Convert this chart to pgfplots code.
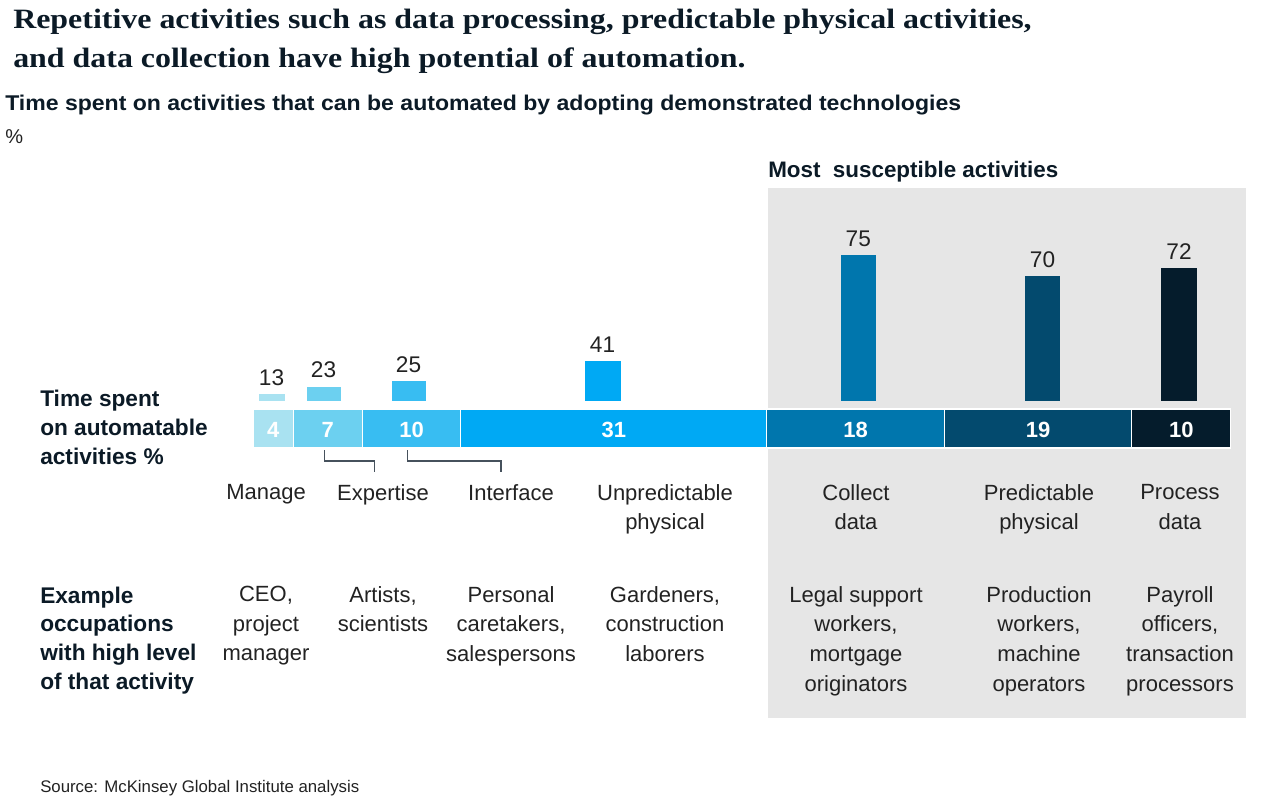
\documentclass[border=0pt]{standalone}
\usepackage{pgfplots}
\pgfplotsset{compat=1.18}
\usepackage{fontspec}
\setmainfont{Liberation Sans}
\newfontfamily\titlefont[FakeStretch=1.14]{Liberation Serif}

\definecolor{segA}{HTML}{A9E2F1}
\definecolor{segB}{HTML}{6CD0F0}
\definecolor{segC}{HTML}{38BDF2}
\definecolor{segD}{HTML}{00A9F4}
\definecolor{segE}{HTML}{0076AD}
\definecolor{segF}{HTML}{034A6E}
\definecolor{segG}{HTML}{051C2C}
\definecolor{boxgrey}{HTML}{E6E6E6}
\definecolor{ink}{HTML}{0B1A26}
\definecolor{body}{HTML}{222222}
\definecolor{linkgrey}{HTML}{46515C}

\begin{document}
\begin{tikzpicture}[x=0.75pt,y=0.75pt,
  bodytxt/.style={inner sep=0, text=body, align=center,
    font=\fontsize{16.5}{22.2}\selectfont},
  boldlab/.style={inner sep=0, text=ink, align=left,
    font=\bfseries\fontsize{17}{21.5}\selectfont},
  segnum/.style={text=white, font=\bfseries\fontsize{16.5}{18}\selectfont, anchor=center},
  barnum/.style={text=body, font=\fontsize{17}{18}\selectfont, anchor=south, inner sep=0}]
\useasboundingbox (0,0) rectangle (1265,-800);

% shaded block of the most susceptible activities
\fill[boxgrey] (768,-188) rectangle (1246,-718);

% titles
\node[anchor=base west, inner sep=0, text=ink,
  font=\titlefont\bfseries\fontsize{21}{28}\selectfont] at (13,-28)
  {Repetitive activities such as data processing, predictable physical activities,};
\node[anchor=base west, inner sep=0, text=ink,
  font=\titlefont\bfseries\fontsize{21}{28}\selectfont] at (13,-67)
  {and data collection have high potential of automation.};
\node[anchor=base west, inner sep=0, text=ink,
  font=\bfseries\fontsize{16}{18}\selectfont] at (5,-110)
  {\scalebox{1.08}[1]{Time spent on activities that can be automated by adopting demonstrated technologies}};
\node[anchor=base west, inner sep=0, text=body,
  font=\fontsize{15}{18}\selectfont] at (5,-143) {\%};
\node[anchor=base west, inner sep=0, text=ink,
  font=\bfseries\fontsize{16.8}{18}\selectfont] at (768,-177.5)
  {Most\ \ susceptible activities};

% row headers
\node[boldlab, anchor=north west] at (40,-390)
  {Time spent\\on automatable\\activities \%};
\node[boldlab, anchor=north west] at (40,-586.5)
  {Example\\occupations\\with high level\\of that activity};

% x: time spent (%), y: pixels above the strip's lower edge
\begin{axis}[at={(257,-448)}, anchor=south west, scale only axis,
  width=732.75pt, height=150pt, xmin=0, xmax=99, ymin=0, ymax=200,
  hide axis, clip=false]
% strip: width of each segment = time spent
\addplot[ybar, bar shift=0pt, bar width=4,  fill=segA, draw=white, line width=0.8pt] coordinates {(2,39)};
\addplot[ybar, bar shift=0pt, bar width=7,  fill=segB, draw=white, line width=0.8pt] coordinates {(7.5,39)};
\addplot[ybar, bar shift=0pt, bar width=10, fill=segC, draw=white, line width=0.8pt] coordinates {(16,39)};
\addplot[ybar, bar shift=0pt, bar width=31, fill=segD, draw=white, line width=0.8pt] coordinates {(36.5,39)};
\addplot[ybar, bar shift=0pt, bar width=18, fill=segE, draw=white, line width=0.8pt] coordinates {(61,39)};
\addplot[ybar, bar shift=0pt, bar width=19, fill=segF, draw=white, line width=0.8pt] coordinates {(79.5,39)};
\addplot[ybar, bar shift=0pt, bar width=10, fill=segG, draw=white, line width=0.8pt] coordinates {(94,39)};
\node[segnum] at (axis cs:2,18.5) {4};
\node[segnum] at (axis cs:7.5,18.5) {7};
\node[segnum] at (axis cs:16,18.5) {10};
\node[segnum] at (axis cs:36.5,18.5) {31};
\node[segnum] at (axis cs:61,18.5) {18};
\node[segnum] at (axis cs:79.5,18.5) {19};
\node[segnum] at (axis cs:94,18.5) {10};
% bars above: share of that time which can be automated (height grows with the share)
\addplot[fill=segA, draw=none] coordinates {(0.51,47.3) (3.13,47.3) (3.13,53.7) (0.51,53.7)} -- cycle;
\addplot[fill=segB, draw=none] coordinates {(5.37,47.3) (8.81,47.3) (8.81,61.3) (5.37,61.3)} -- cycle;
\addplot[fill=segC, draw=none] coordinates {(13.98,47.3) (17.42,47.3) (17.42,67.0) (13.98,67.0)} -- cycle;
\addplot[fill=segD, draw=none] coordinates {(33.54,47.3) (37.19,47.3) (37.19,87.3) (33.54,87.3)} -- cycle;
\addplot[fill=segE, draw=none] coordinates {(59.48,47.3) (63.06,47.3) (63.06,192.7) (59.48,192.7)} -- cycle;
\addplot[fill=segF, draw=none] coordinates {(78.14,47.3) (81.74,47.3) (81.74,172.0) (78.14,172.0)} -- cycle;
\addplot[fill=segG, draw=none] coordinates {(91.97,47.3) (95.57,47.3) (95.57,179.7) (91.97,179.7)} -- cycle;
\node[barnum] at (axis cs:1.82,62.0) {13};
\node[barnum] at (axis cs:7.09,69.6) {23};
\node[barnum] at (axis cs:15.70,75.3) {25};
\node[barnum] at (axis cs:35.36,95.6) {41};
\node[barnum] at (axis cs:61.27,201.0) {75};
\node[barnum] at (axis cs:79.94,180.3) {70};
\node[barnum] at (axis cs:93.77,188.0) {72};
\end{axis}

% brackets from segments to their activity names
\draw[linkgrey, line width=1pt] (324.3,-450) -- (324.3,-461) -- (374.3,-461) -- (374.3,-472);
\draw[linkgrey, line width=1pt] (407.3,-450) -- (407.3,-461) -- (501,-461) -- (501,-472);

% activity names
\node[bodytxt, anchor=north] at (266,-484) {Manage};
\node[bodytxt, anchor=north] at (383,-484) {Expertise};
\node[bodytxt, anchor=north] at (511,-484) {Interface};
\node[bodytxt, anchor=north] at (665,-484) {Unpredictable\\physical};
\node[bodytxt, anchor=north] at (856,-484) {Collect\\data};
\node[bodytxt, anchor=north] at (1039,-484) {Predictable\\physical};
\node[bodytxt, anchor=north] at (1180,-484) {Process\\data};

% example occupations
\node[bodytxt, anchor=north] at (266,-586) {CEO,\\project\\manager};
\node[bodytxt, anchor=north] at (383,-586) {Artists,\\scientists};
\node[bodytxt, anchor=north] at (511,-586) {Personal\\caretakers,\\salespersons};
\node[bodytxt, anchor=north] at (665,-586) {Gardeners,\\construction\\laborers};
\node[bodytxt, anchor=north] at (856,-586) {Legal support\\workers,\\mortgage\\originators};
\node[bodytxt, anchor=north] at (1039,-586) {Production\\workers,\\machine\\operators};
\node[bodytxt, anchor=north] at (1180,-586) {Payroll\\officers,\\transaction\\processors};

% source
\node[anchor=base west, inner sep=0, text=body,
  font=\fontsize{12.6}{14}\selectfont] at (40,-792)
  {Source: McKinsey Global Institute analysis};
\end{tikzpicture}
\end{document}
